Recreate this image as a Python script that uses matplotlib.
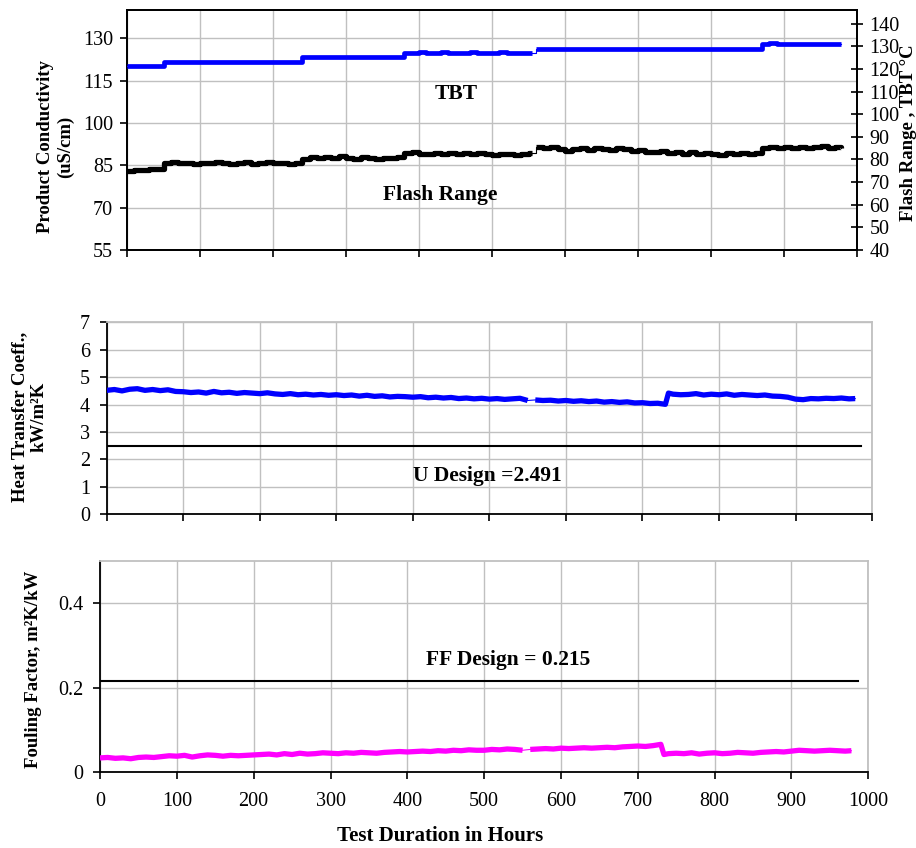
import numpy as np
import matplotlib
matplotlib.use("Agg")
import matplotlib.pyplot as plt

plt.rcParams['font.family'] = ['Liberation Serif', 'DejaVu Serif']

# sampling grid in hours (gap in logging around 555 h, jump at 734 h)
hours = (list(range(0, 551, 10)) + [555] + list(range(560, 731, 10)) + [734]
         + list(range(740, 971, 10)) + [978])

# TBT, deg C (right axis of top panel)
tbt = ([121.2] * 5 + [123.2] * 19 + [125.3] * 14
       + [127.2, 127.0, 127.3, 127.1, 127.2, 127.3, 127.0, 127.2, 127.1,
          127.3, 127.2, 127.0, 127.2, 127.3, 127.1, 127.2, 127.0, 127.1]
       + [np.nan] + [128.8] * 18 + [128.8] + [128.8] * 13
       + [130.9, 131.4, 130.9, 130.9, 131.0, 130.9, 130.9, 130.8, 130.9, 130.9, 130.9]
       + [130.9])

# Flash range, deg C
flash = ([75.0, 75.4, 75.2, 75.6, 75.8]
         + [78.6, 78.8, 78.3, 78.5, 78.1, 78.6, 78.4, 79.0, 78.5, 78.0,
            78.6, 78.7, 78.2, 78.5, 78.9, 78.3, 78.4, 78.1, 78.5]
         + [80.3, 80.9, 80.6, 81.0, 80.5, 81.3, 80.8, 80.4, 80.9, 80.6,
            80.2, 80.7, 80.5, 81.0]
         + [82.8, 83.2, 82.6, 82.3, 82.9, 82.5, 83.0, 82.4, 82.7, 82.2,
            82.8, 82.5, 82.1, 82.6, 82.4, 82.0, 82.6, 82.8]
         + [np.nan]
         + [85.4, 84.9, 85.3, 84.6, 83.8, 84.5, 84.9, 84.3, 85.0, 84.7,
            84.2, 85.0, 84.4, 83.6, 84.0, 83.5, 83.2, 83.9]
         + [83.6]
         + [82.8, 83.4, 82.5, 83.2, 82.2, 82.9, 82.3, 82.0, 82.7, 82.4,
            82.9, 82.5, 82.7]
         + [85.0, 85.3, 84.9, 85.4, 85.1, 85.5, 85.2, 85.6, 85.8, 85.2, 85.4]
         + [85.2])

# overall heat transfer coefficient, kW/m2K
u_coeff = ([4.52, 4.55, 4.50, 4.56, 4.58, 4.52, 4.55, 4.51, 4.54, 4.48,
            4.47, 4.44, 4.46, 4.42, 4.48, 4.43, 4.45, 4.41, 4.44, 4.42,
            4.40, 4.43, 4.39, 4.37, 4.40, 4.36, 4.38, 4.35, 4.37, 4.34,
            4.36, 4.33, 4.35, 4.31, 4.34, 4.30, 4.32, 4.28, 4.30, 4.29,
            4.27, 4.29, 4.25, 4.27, 4.24, 4.26, 4.22, 4.24, 4.21, 4.23,
            4.20, 4.22, 4.19, 4.21, 4.23, 4.15]
           + [np.nan]
           + [4.17, 4.15, 4.16, 4.13, 4.15, 4.12, 4.14, 4.11, 4.13, 4.09,
              4.11, 4.08, 4.10, 4.06, 4.07, 4.04, 4.05, 4.01]
           + [4.42]
           + [4.38, 4.36, 4.37, 4.40, 4.35, 4.38, 4.36, 4.39, 4.34, 4.37,
              4.35, 4.33, 4.35, 4.31, 4.30, 4.27, 4.20, 4.18, 4.22, 4.21,
              4.23, 4.22, 4.24, 4.21]
           + [4.22])

# fouling factor, m2K/kW
fouling = ([0.034, 0.035, 0.033, 0.034, 0.032, 0.035, 0.036, 0.035, 0.037, 0.039,
            0.038, 0.040, 0.036, 0.039, 0.041, 0.040, 0.038, 0.040, 0.039, 0.040,
            0.041, 0.042, 0.043, 0.041, 0.044, 0.042, 0.045, 0.043, 0.044, 0.046,
            0.045, 0.044, 0.046, 0.045, 0.047, 0.046, 0.045, 0.047, 0.048, 0.049,
            0.048, 0.049, 0.050, 0.049, 0.051, 0.050, 0.052, 0.051, 0.053, 0.052,
            0.052, 0.054, 0.053, 0.055, 0.054, 0.052]
           + [np.nan]
           + [0.054, 0.055, 0.056, 0.055, 0.057, 0.056, 0.057, 0.058, 0.057, 0.058,
              0.059, 0.058, 0.060, 0.061, 0.062, 0.061, 0.063, 0.066]
           + [0.042]
           + [0.044, 0.045, 0.044, 0.046, 0.043, 0.045, 0.046, 0.044, 0.045, 0.047,
              0.046, 0.045, 0.047, 0.048, 0.049, 0.048, 0.050, 0.052, 0.051, 0.050,
              0.051, 0.052, 0.051, 0.050]
           + [0.051])

u_design = 2.491
ff_design = 0.215
design_span = [0, 986]

hours = np.array(hours, dtype=float)
tbt = np.array(tbt)
flash = np.array(flash)
u_coeff = np.array(u_coeff)
fouling = np.array(fouling)

GRID = '#c0c0c0'
TICK_FS = 14.5
LABEL_FS = 13.5
NOTE_FS = 15.5

fig = plt.figure(figsize=(9.16, 8.48), dpi=100)
ax1 = fig.add_axes([0.1387, 0.7052, 0.7969, 0.2830])
ax2 = fig.add_axes([0.1165, 0.3935, 0.8355, 0.2264])
ax3 = fig.add_axes([0.1092, 0.0893, 0.8387, 0.2495])


def style_axes(ax, box_color):
    ax.set_xlim(0, 1000)
    ax.set_xticks(range(0, 1001, 100))
    ax.grid(True, color=GRID, linewidth=1.0)
    ax.set_axisbelow(True)
    for side in ('left', 'bottom'):
        ax.spines[side].set_color('black')
        ax.spines[side].set_linewidth(1.3)
    for side in ('top', 'right'):
        ax.spines[side].set_color(box_color)
        ax.spines[side].set_linewidth(1.3)
    ax.tick_params(direction='out', length=5, width=1.2, labelsize=TICK_FS,
                   colors='black', pad=5)


def thick_series(ax, x, y, color, lw, steps=False):
    ok = ~np.isnan(y)
    ds = 'steps-post' if steps else 'default'
    # thin connector through the logging gap
    ax.plot(x[ok], y[ok], color=color, lw=0.8, drawstyle=ds, zorder=3)
    ax.plot(x, y, color=color, lw=lw, drawstyle=ds, solid_capstyle='butt', zorder=4)


# ---- top panel: conductivity axis + flash range / TBT
style_axes(ax1, 'black')
ax1.set_ylim(55, 140)
ax1.set_yticks(range(55, 131, 15))
ax1.tick_params(axis='x', labelbottom=False)
ax1.set_ylabel('Product Conductivity\n(uS/cm)', fontsize=LABEL_FS, fontweight='bold',
               linespacing=1.2)
ax1.yaxis.set_label_coords(-0.073, 0.43)

ax1r = ax1.twinx()
ax1r.set_ylim(40, 146)
ax1r.set_yticks(range(40, 141, 10))
ax1r.tick_params(axis='y', direction='inout', length=8, width=1.2,
                 labelsize=TICK_FS, pad=5)
for side in ax1r.spines.values():
    side.set_color('black')
    side.set_linewidth(1.3)
ax1r.set_ylabel('Flash Range , TBT °C', fontsize=LABEL_FS, fontweight='bold')
ax1r.yaxis.set_label_coords(1.059, 0.49)
thick_series(ax1r, hours, tbt, '#0000ff', 3.4, steps=True)
thick_series(ax1r, hours, flash, 'black', 3.8, steps=True)
ax1r.text(451, 108.7, 'TBT', fontsize=NOTE_FS, fontweight='bold', ha='center', va='center')
ax1r.text(429, 64.3, 'Flash Range', fontsize=NOTE_FS, fontweight='bold', ha='center', va='center')

# ---- middle panel: heat transfer coefficient
style_axes(ax2, GRID)
ax2.set_ylim(0, 7)
ax2.set_yticks(range(0, 8))
ax2.tick_params(axis='x', labelbottom=False)
ax2.tick_params(axis='y', pad=7)
ax2.set_ylabel('Heat Transfer Coeff.,\nkW/m²K', fontsize=LABEL_FS, fontweight='bold',
               linespacing=1.2)
ax2.yaxis.set_label_coords(-0.077, 0.507)
thick_series(ax2, hours, u_coeff, '#0000ff', 3.8)
ax2.plot(design_span, [u_design, u_design], color='black', lw=1.5, zorder=3)
ax2.text(497, 1.40, 'U Design =%.3f' % u_design, fontsize=NOTE_FS, fontweight='bold',
         ha='center', va='center')

# ---- bottom panel: fouling factor
style_axes(ax3, GRID)
ax3.set_ylim(0, 0.5)
ax3.set_yticks([0, 0.2, 0.4])
ax3.set_yticklabels(['0', '0.2', '0.4'])
ax3.tick_params(axis='y', pad=7)
ax3.set_ylabel('Fouling Factor, m²K/kW', fontsize=LABEL_FS, fontweight='bold')
ax3.yaxis.set_label_coords(-0.0755, 0.488)
ax3.set_xlabel('Test Duration in Hours', fontsize=15, fontweight='bold')
ax3.xaxis.set_label_coords(0.443, -0.255)
ax3.tick_params(axis='x', pad=9)
thick_series(ax3, hours, fouling, '#ff00ff', 3.8)
ax3.plot(design_span, [ff_design, ff_design], color='black', lw=1.5, zorder=3)
ax3.text(531, 0.266, 'FF Design = %.3f' % ff_design, fontsize=NOTE_FS, fontweight='bold',
         ha='center', va='center')

fig.savefig('out.png', dpi=100)
